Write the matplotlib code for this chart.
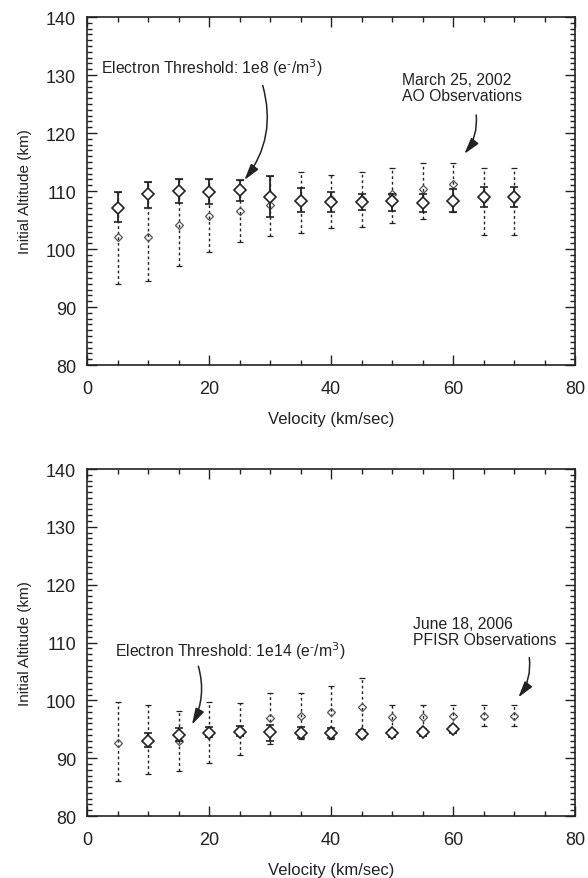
import matplotlib
matplotlib.use("Agg")
import matplotlib.pyplot as plt
import numpy as np
from matplotlib.ticker import MultipleLocator

plt.rcParams['font.family'] = ['Liberation Sans', 'DejaVu Sans']

# ---------------- data: top panel (March 25, 2002, AO) ----------------
top_vel = [5, 10, 15, 20, 25, 30, 35, 40, 45, 50, 55, 60, 65, 70]
# solid series (model, threshold 1e8)
top_solid_mid = [107.1, 109.4, 110.0, 109.9, 110.2, 108.9, 108.3, 108.1, 108.1, 108.3, 107.9, 108.3, 109.0, 109.0]
top_solid_lo = [104.6, 107.1, 108.0, 107.8, 108.2, 105.5, 106.3, 106.4, 106.7, 106.6, 106.4, 106.4, 107.2, 107.3]
top_solid_hi = [109.9, 111.6, 112.0, 112.1, 111.9, 112.6, 110.6, 109.8, 109.4, 109.5, 109.5, 110.3, 110.7, 110.7]
# dashed series (observations)
top_dash_mid = [102.0, 102.1, 104.1, 105.7, 106.6, 107.6, 108.3, 108.6, 108.6, 109.5, 110.3, 111.2, 108.7, 108.6]
top_dash_lo = [93.9, 94.4, 97.1, 99.4, 101.2, 102.3, 102.7, 103.6, 103.8, 104.5, 105.1, 106.4, 102.4, 102.4]
top_dash_hi = [109.9, 111.6, 112.0, 112.1, 111.9, 112.6, 113.2, 112.8, 113.2, 113.9, 114.8, 114.9, 114.0, 114.0]

# ---------------- data: bottom panel (June 18, 2006, PFISR) ----------------
bot_solid_vel = [10, 15, 20, 25, 30, 35, 40, 45, 50, 55, 60]
bot_solid_mid = [93.0, 94.0, 94.4, 94.6, 94.5, 94.4, 94.4, 94.2, 94.3, 94.5, 95.0]
bot_solid_lo = [92.0, 93.0, 93.6, 93.8, 93.0, 93.5, 93.5, 93.6, 93.7, 93.9, 94.4]
bot_solid_hi = [94.3, 95.2, 95.4, 95.5, 95.8, 95.4, 95.3, 94.8, 94.9, 95.1, 95.6]

bot_dash_vel = [5, 10, 15, 20, 25, 30, 35, 40, 45, 50, 55, 60, 65, 70]
bot_dash_mid = [92.7, 93.2, 93.0, 94.5, 94.8, 97.0, 97.3, 98.0, 98.8, 97.2, 97.2, 97.3, 97.3, 97.3]
bot_dash_lo = [86.0, 87.2, 87.7, 89.2, 90.5, 92.5, 93.3, 93.3, 93.5, 93.8, 94.0, 94.5, 95.5, 95.5]
bot_dash_hi = [99.8, 99.2, 98.2, 99.8, 99.5, 101.2, 101.2, 102.5, 103.8, 99.2, 99.2, 99.2, 99.2, 99.2]

xlim = (0, 80)
ylim = (80, 140)
xlabel = "Velocity (km/sec)"
ylabel = "Initial Altitude (km)"

INK = '#222222'
ARROW = '-|>,head_length=0.7,head_width=0.2'

fig = plt.figure(figsize=(5.88, 8.79), dpi=100)
ax1 = fig.add_axes([0.148, 0.5836, 0.830, 0.3959])
ax2 = fig.add_axes([0.148, 0.0705, 0.830, 0.3948])


def draw_series(ax, x, mid, lo, hi, dashed):
    x = np.asarray(x, float)
    mid = np.asarray(mid, float)
    yerr = [mid - np.asarray(lo), np.asarray(hi) - mid]
    if dashed:
        eb = ax.errorbar(x, mid, yerr=yerr, fmt='D', ms=4.5, mfc='none', mec='#555555',
                         mew=0.9, ecolor=INK, elinewidth=1.0, capsize=2.0, capthick=1.2,
                         zorder=2)
        for lc in eb[2]:
            lc.set_linestyle((0, (2.0, 2.0)))
    else:
        ax.errorbar(x, mid, yerr=yerr, fmt='D', ms=6.0, mfc='white', mec=INK,
                    mew=1.2, ecolor=INK, elinewidth=1.3, capsize=2.8, capthick=1.5,
                    zorder=3)


def style(ax):
    ax.set_xlim(*xlim)
    ax.set_ylim(*ylim)
    ax.xaxis.set_major_locator(MultipleLocator(20))
    ax.xaxis.set_minor_locator(MultipleLocator(5))
    ax.yaxis.set_major_locator(MultipleLocator(10))
    ax.yaxis.set_minor_locator(MultipleLocator(1))
    ax.tick_params(which='both', direction='in', top=True, right=True, color=INK,
                   labelsize=13, labelcolor=INK, width=1.0)
    ax.tick_params(which='major', length=7)
    ax.tick_params(which='minor', length=3.5)
    ax.tick_params(axis='y', which='major', pad=8)
    ax.tick_params(axis='x', which='major', pad=11)
    for s in ax.spines.values():
        s.set_linewidth(1.2)
        s.set_color(INK)
    ax.set_xlabel(xlabel, fontsize=12, color=INK, labelpad=10)
    ax.set_ylabel(ylabel, fontsize=11, color=INK, labelpad=10)


EM = r"(e$^{\text{-}}$/m$^{3}$)"
FS = 11.3


def arrow(ax, tip, tail, rad=-0.2):
    ax.annotate("", xy=tip, xytext=tail,
                arrowprops=dict(arrowstyle=ARROW, color=INK, lw=1.1, shrinkA=0, shrinkB=0,
                                connectionstyle=f'arc3,rad={rad}', mutation_scale=14))


style(ax1)
draw_series(ax1, top_vel, top_dash_mid, top_dash_lo, top_dash_hi, True)
draw_series(ax1, top_vel, top_solid_mid, top_solid_lo, top_solid_hi, False)

ax1.text(2.25, 131.4, "Electron Threshold: 1e8 " + EM, fontsize=FS,
         color=INK, va='center', ha='left')
arrow(ax1, (25.8, 111.9), (28.8, 128.2), rad=-0.25)
ax1.text(51.7, 127.9, "March 25, 2002\nAO Observations", fontsize=FS,
         color=INK, va='center', ha='left', linespacing=1.1)
arrow(ax1, (61.85, 116.4), (63.8, 123.1), rad=-0.2)

style(ax2)
draw_series(ax2, bot_dash_vel, bot_dash_mid, bot_dash_lo, bot_dash_hi, True)
draw_series(ax2, bot_solid_vel, bot_solid_mid, bot_solid_lo, bot_solid_hi, False)

ax2.text(4.6, 108.6, "Electron Threshold: 1e14 " + EM, fontsize=FS,
         color=INK, va='center', ha='left')
arrow(ax2, (17.2, 95.8), (18.25, 105.9), rad=-0.2)
ax2.text(53.5, 111.9, "June 18, 2006\nPFISR Observations", fontsize=FS,
         color=INK, va='center', ha='left', linespacing=1.1)
arrow(ax2, (70.7, 100.5), (72.5, 107.4), rad=-0.2)

fig.savefig("out.png", dpi=100)
